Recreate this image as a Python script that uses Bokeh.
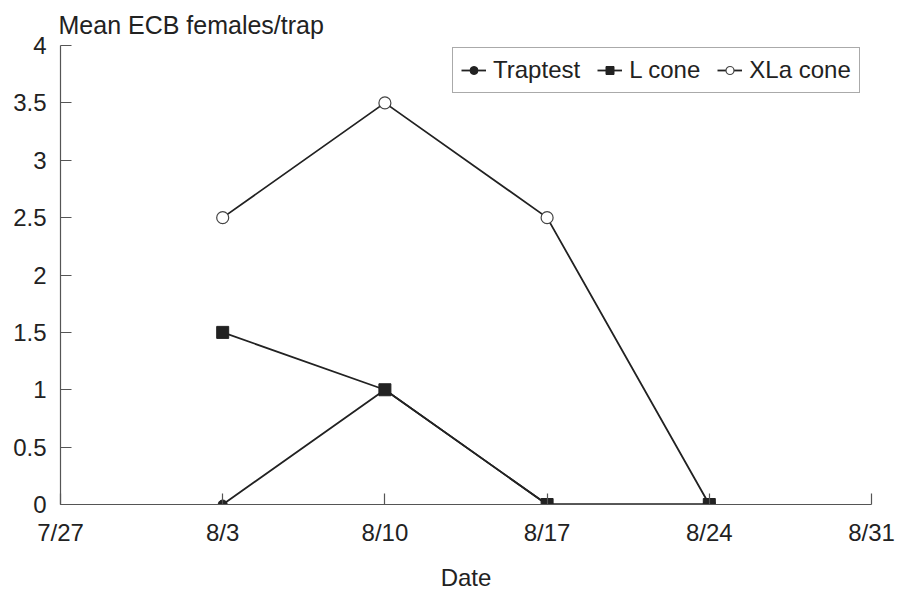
import datetime
from bokeh.plotting import figure
from bokeh.models import FixedTicker, Legend, LegendItem, Range1d
from bokeh.embed import file_html
from bokeh.resources import INLINE

# ---- data ----
dates = ["8/3", "8/10", "8/17", "8/24"]
traptest = [0, 1, 0, 0]
l_cone = [1.5, 1, 0, 0]
xla_cone = [2.5, 3.5, 2.5, 0]
x_tick_labels = ["7/27", "8/3", "8/10", "8/17", "8/24", "8/31"]
y_ticks = [0, 0.5, 1, 1.5, 2, 2.5, 3, 3.5, 4]

START = datetime.date(2000, 7, 27)
def day(s):
    m, d = s.split("/")
    return (datetime.date(2000, int(m), int(d)) - START).days

xs = [day(s) for s in dates]
tick_pos = [day(s) for s in x_tick_labels]

FONT = "Liberation Sans"
INK = "#222222"
AXC = "#555555"

p = figure(width=897, height=593, output_backend="svg", toolbar_location=None,
           x_range=Range1d(tick_pos[0], tick_pos[-1]), y_range=Range1d(0, 4),
           min_border_left=60, min_border_right=26, min_border_top=45, min_border_bottom=89)
p.outline_line_color = None
p.xgrid.visible = False
p.ygrid.visible = False
p.background_fill_color = "white"
p.border_fill_color = "white"

p.title.text = "Mean ECB females/trap"
p.title.text_font = FONT
p.title.text_font_size = "25px"
p.title.text_font_style = "normal"
p.title.text_color = INK
p.title.align = "left"
p.title.offset = -2
p.title.standoff = 14

for ax in (p.xaxis[0], p.yaxis[0]):
    ax.axis_line_color = AXC
    ax.axis_line_width = 1.2
    ax.major_tick_line_color = AXC
    ax.major_tick_line_width = 1.2
    ax.major_tick_in = 11
    ax.major_tick_out = 0
    ax.minor_tick_line_color = None
    ax.major_label_text_font = FONT
    ax.major_label_text_font_size = "24px"
    ax.major_label_text_color = INK
    ax.axis_label_text_font = FONT
    ax.axis_label_text_font_size = "24px"
    ax.axis_label_text_font_style = "normal"
    ax.axis_label_text_color = INK

p.xaxis.ticker = FixedTicker(ticks=tick_pos)
p.xaxis.major_label_overrides = {t: l for t, l in zip(tick_pos, x_tick_labels)}
p.xaxis.major_label_standoff = 14
p.xaxis.axis_label = "Date"
p.xaxis.axis_label_standoff = 15

p.yaxis.ticker = FixedTicker(ticks=y_ticks)
p.yaxis.major_label_overrides = {t: (str(int(t)) if t == int(t) else str(t)) for t in y_ticks}
p.yaxis.major_label_standoff = 14

LW = 1.8
r3l = p.line(xs, xla_cone, line_color=INK, line_width=LW)
r3m = p.scatter(xs, xla_cone, marker="circle", size=12, fill_color="white", line_color="#444444", line_width=1.2)
r1l = p.line(xs, traptest, line_color=INK, line_width=LW)
r1m = p.scatter(xs, traptest, marker="circle", size=9, fill_color=INK, line_color=INK)
r2l = p.line(xs, l_cone, line_color=INK, line_width=LW)
r2m = p.scatter(xs, l_cone, marker="square", size=12, fill_color=INK, line_color=INK)

legend = Legend(items=[
    LegendItem(label="Traptest", renderers=[r1l, r1m]),
    LegendItem(label="L cone", renderers=[r2l, r2m]),
    LegendItem(label="XLa cone", renderers=[r3l, r3m]),
], orientation="horizontal", location=(392, 411))
legend.label_text_font = FONT
legend.label_text_font_size = "24px"
legend.label_text_color = INK
legend.glyph_width = 25
legend.label_standoff = 7
legend.spacing = 17
legend.padding = 8
legend.margin = 0
legend.border_line_color = "#555555"
legend.border_line_width = 1.2
legend.background_fill_alpha = 1
p.add_layout(legend, "center")

open("out.html", "w").write(file_html(p, INLINE))
